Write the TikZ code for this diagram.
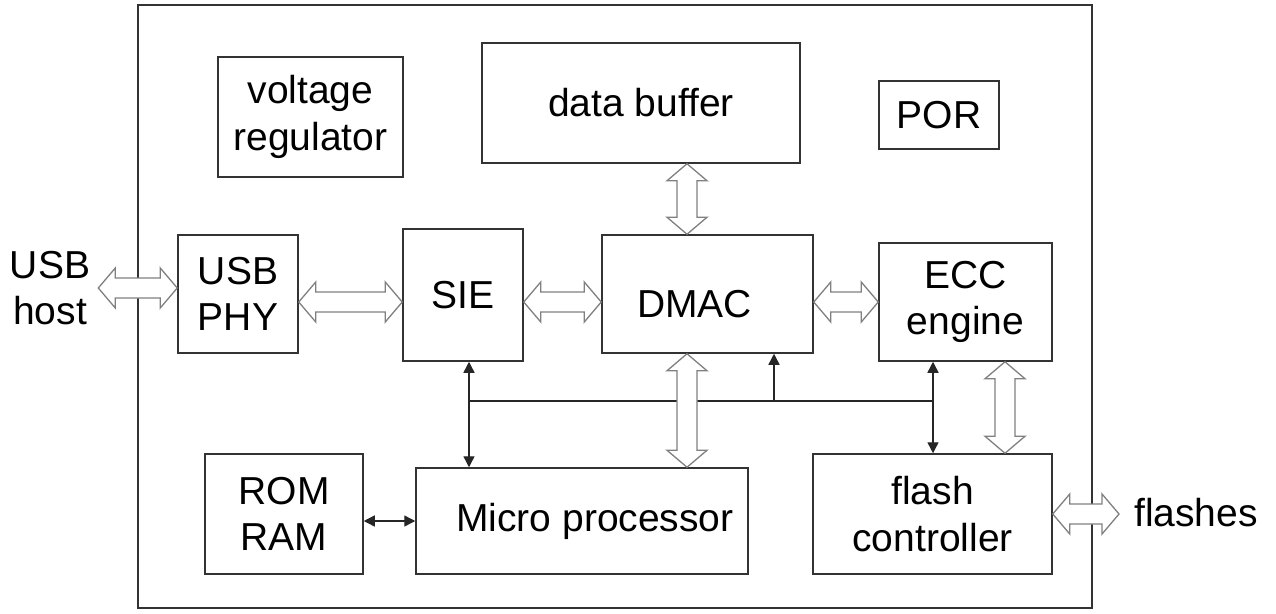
\documentclass[tikz,border=0pt]{standalone}
\usepackage{fontspec}
\setmainfont{Liberation Sans}
\usetikzlibrary{calc,arrows.meta}

\newcommand\blkfont{\fontsize{39}{46.5}\selectfont}

\tikzset{
  blk/.style={draw=black!80, line width=1.5pt, fill=white, inner sep=0pt,
              align=center, font=\blkfont},
  lbl/.style={inner sep=0pt, align=center, font=\blkfont},
  hollow/.style={draw=black!50, line width=1.3pt, fill=white, line join=miter},
  tip/.tip={Triangle[length=11pt,width=11pt]},
  sig/.style={draw=black!85, line width=1.4pt, tip-tip},
  sigone/.style={draw=black!85, line width=1.4pt, -tip},
  bus/.style={draw=black!85, line width=1.4pt},
}

% wide hollow double arrow, left point #1 (sets the height) to right point #2
\newcommand\wideH[2]{%
  \path[hollow] let \p1=(#1), \p2=(#2) in
    (\x1,\y1) -- (\x1+17pt,\y1+20pt) -- (\x1+17pt,\y1+10pt) -- (\x2-17pt,\y1+10pt)
    -- (\x2-17pt,\y1+20pt) -- (\x2,\y1) -- (\x2-17pt,\y1-20pt) -- (\x2-17pt,\y1-10pt)
    -- (\x1+17pt,\y1-10pt) -- (\x1+17pt,\y1-20pt) -- cycle;}
% wide hollow double arrow, top point #1 (sets the column) to bottom point #2
\newcommand\wideV[2]{%
  \path[hollow] let \p1=(#1), \p2=(#2) in
    (\x1,\y1) -- (\x1+20pt,\y1-17pt) -- (\x1+10pt,\y1-17pt) -- (\x1+10pt,\y2+17pt)
    -- (\x1+20pt,\y2+17pt) -- (\x1,\y2) -- (\x1-20pt,\y2+17pt) -- (\x1-10pt,\y2+17pt)
    -- (\x1-10pt,\y1-17pt) -- (\x1-20pt,\y1-17pt) -- cycle;}

\begin{document}
\begin{tikzpicture}[x=1pt,y=-1pt]
\useasboundingbox (0,0) rectangle (1276,613);

% chip outline
\node[blk, minimum width=954pt, minimum height=603pt] (chip) at (615,306.5) {};

% blocks
\node[blk, minimum width=185pt, minimum height=120pt] (vr)  at (310.5,117) {voltage\\regulator};
\node[blk, minimum width=318pt, minimum height=120pt] (buf) at (641,103) {data buffer};
\node[blk, minimum width=120pt, minimum height=68pt]  (por) at (939,115) {POR};
\node[blk, minimum width=120pt, minimum height=118pt] (phy) at (238,294) {USB\\PHY};
\node[blk, minimum width=120pt, minimum height=132pt] (sie) at (463,295) {SIE};
\node[blk, minimum width=211pt, minimum height=118pt] (dmac) at (707.5,294) {};
\node[lbl] (dmactext) at (694.5,304) {DMAC};
\node[blk, minimum width=173pt, minimum height=118pt] (ecc) at (965.5,302) {ECC\\engine};
\node[blk, minimum width=158pt, minimum height=120pt] (rom) at (284,514) {ROM\\RAM};
\node[blk, minimum width=332pt, minimum height=106pt] (mp)  at (582,521) {};
\node[lbl] (mptext) at (595,521) {Micro processor};
\node[blk, minimum width=239pt, minimum height=120pt] (flash) at (932.5,514) {flash\\controller};

% outside labels
\node[lbl, inner xsep=8pt] (host) at (50,288) {USB\\host};
\node[lbl, inner xsep=15pt] (flashes) at (1196,513) {flashes};

% control bus
\coordinate (b1) at (469,401);
\coordinate (b2) at (933,401);
\coordinate (b3) at (774,401);
\draw[bus] (b1) -- (b2);
\draw[sig] (sie.south -| b1) -- (b1 |- mp.north);
\draw[sigone] (b3) -- (b3 |- dmac.south);
\draw[sig] (ecc.south -| b2) -- (b2 |- flash.north);
\draw[sig] (rom.east |- mp.west) -- (mp.west);

% data paths
\coordinate (vx) at (687,0);
\coordinate (vx2) at (1005,0);
\wideH{host.east}{phy.west}
\wideH{$(phy.east)+(0,8)$}{sie.west}
\wideH{$(sie.east)+(0,7)$}{dmac.west}
\wideH{dmac.east |- ecc.center}{ecc.west}
\wideH{flash.east}{flashes.west}
\wideV{buf.south -| vx}{dmac.north -| vx}
\wideV{dmac.south -| vx}{mp.north -| vx}
\wideV{ecc.south -| vx2}{flash.north -| vx2}
\end{tikzpicture}
\end{document}
